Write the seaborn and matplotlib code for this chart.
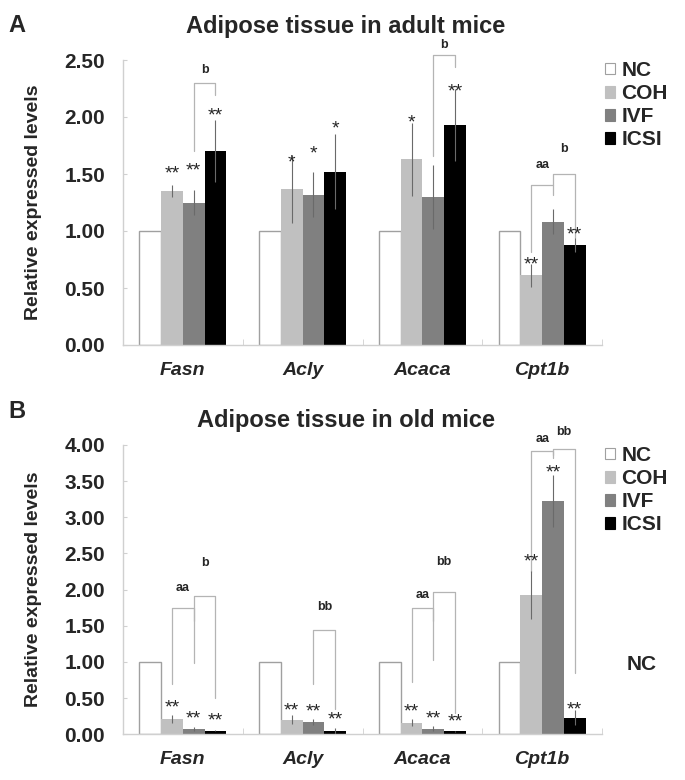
import numpy as np
import pandas as pd
import matplotlib
matplotlib.use("Agg")
import matplotlib.pyplot as plt
import matplotlib.transforms as mtransforms
from matplotlib.patches import Patch
import seaborn as sns

# Genes and groups
genes = ["Fasn", "Acly", "Acaca", "Cpt1b"]
groups = ["NC", "COH", "IVF", "ICSI"]
colors = ["#ffffff", "#c0c0c0", "#808080", "#000000"]

# Panel A: adipose tissue in adult mice
adult_nc = [1.00, 1.00, 1.00, 1.00]
adult_coh = [1.35, 1.37, 1.63, 0.61]
adult_ivf = [1.25, 1.32, 1.30, 1.08]
adult_icsi = [1.70, 1.52, 1.93, 0.88]
adult_coh_err = [0.05, 0.30, 0.32, 0.10]
adult_ivf_err = [0.11, 0.20, 0.28, 0.11]
adult_icsi_err = [0.27, 0.33, 0.32, 0.06]

# Panel B: adipose tissue in old mice
old_nc = [1.00, 1.00, 1.00, 1.00]
old_coh = [0.21, 0.20, 0.16, 1.93]
old_ivf = [0.07, 0.17, 0.08, 3.23]
old_icsi = [0.05, 0.05, 0.04, 0.23]
old_coh_err = [0.06, 0.06, 0.05, 0.33]
old_ivf_err = [0.03, 0.04, 0.03, 0.36]
old_icsi_err = [0.01, 0.04, 0.01, 0.10]

# Significance marks per gene (NC, COH, IVF, ICSI) and their heights
adult_stars = [["", "**", "**", "**"], ["", "*", "*", "*"], ["", "*", "", "**"], ["", "**", "", "**"]]
adult_star_y = [[0, 1.55, 1.58, 2.06], [0, 1.65, 1.73, 1.95], [0, 2.00, 0, 2.27], [0, 0.75, 0, 1.02]]
old_stars = [["", "**", "**", "**"], ["", "**", "**", "**"], ["", "**", "**", "**"], ["", "**", "**", "**"]]
old_star_y = [[0, 0.44, 0.29, 0.27], [0, 0.41, 0.39, 0.28], [0, 0.39, 0.29, 0.25], [0, 2.46, 3.70, 0.42]]

# Brackets: gene, left group, right group, left foot, top, right foot, label, label height
adult_brackets = [
    (0, 2, 3, 1.70, 2.30, 2.19, "b", 2.42),
    (2, 2, 3, 1.66, 2.54, 2.44, "b", 2.64),
    (3, 1, 2, 0.82, 1.40, 1.32, "aa", 1.59),
    (3, 2, 3, 1.40, 1.50, 0.94, "b", 1.73),
]
old_brackets = [
    (0, 1, 2, 0.70, 1.74, 1.56, "aa", 2.04),
    (0, 2, 3, 0.98, 1.91, 0.50, "b", 2.38),
    (1, 2, 3, 0.70, 1.44, 0.35, "bb", 1.77),
    (2, 1, 2, 0.73, 1.75, 1.56, "aa", 1.94),
    (2, 2, 3, 1.03, 1.97, 0.30, "bb", 2.40),
    (3, 1, 2, 2.25, 3.92, 3.82, "aa", 4.10),
    (3, 2, 3, 3.86, 3.94, 0.85, "bb", 4.20),
]

sns.set_style("white")
plt.rcParams["font.family"] = ["Liberation Sans", "DejaVu Sans"]

fig = plt.figure(figsize=(6.85, 7.8), dpi=100)
ax_a = fig.add_axes([123 / 685, 1 - 345 / 780, 479 / 685, 285 / 780])
ax_b = fig.add_axes([123 / 685, 1 - 734.3 / 780, 479 / 685, 289.3 / 780])

line_gray = "#b4b4b4"


def draw_panel(ax, values, errs, stars, star_y, brackets, ymax):
    df = pd.DataFrame({
        "gene": genes * len(groups),
        "group": np.repeat(groups, len(genes)),
        "value": sum(values, []),
    })
    sns.barplot(data=df, x="gene", y="value", hue="group", order=genes, hue_order=groups,
                palette=colors, width=0.725, saturation=1, errorbar=None, linewidth=0,
                legend=False, ax=ax)

    centers = [[p.get_x() + p.get_width() / 2 for p in c.patches] for c in ax.containers]
    for p in ax.containers[0].patches:
        p.set_edgecolor("#a0a0a0")
        p.set_linewidth(1)

    # error bars (upper + lower, no caps)
    for g in range(1, 4):
        ax.errorbar(centers[g], values[g], yerr=errs[g - 1], fmt="none",
                    ecolor="#6a6a6a", elinewidth=0.8, capsize=0, zorder=3)

    star_trans = mtransforms.offset_copy(ax.transData, fig=fig, y=-7.5, units="points")
    for i in range(len(genes)):
        for g in range(len(groups)):
            if stars[i][g]:
                ax.text(centers[g][i], star_y[i][g], stars[i][g], transform=star_trans,
                        ha="center", va="baseline", fontsize=14, clip_on=False)

    lab_trans = mtransforms.offset_copy(ax.transData, fig=fig, y=-3, units="points")
    for gi, g1, g2, yl, top, yr, lab, ly in brackets:
        x1, x2 = centers[g1][gi], centers[g2][gi]
        ax.plot([x1, x1, x2, x2], [yl, top, top, yr], color=line_gray, lw=0.9, clip_on=False)
        ax.text((x1 + x2) / 2, ly, lab, transform=lab_trans, ha="center", va="baseline",
                fontsize=9, fontweight="bold", clip_on=False)

    ax.set_xlim(-0.5, 3.5)
    ax.set_ylim(0, ymax)
    ax.set_yticks(np.arange(0, ymax + 0.01, 0.5))
    ax.set_yticklabels(["%.2f" % t for t in np.arange(0, ymax + 0.01, 0.5)],
                       fontsize=15, fontweight="bold")
    ax.set_xticks(range(len(genes)))
    ax.set_xticklabels(genes, fontsize=14, fontweight="bold", style="italic")
    ax.set_xticks([-0.5, 0.5, 1.5, 2.5, 3.5], minor=True)
    ax.tick_params(axis="y", direction="in", length=3, color="#d0d0d0", pad=13, left=True)
    ax.tick_params(axis="x", which="major", length=0, pad=12)
    ax.tick_params(axis="x", which="minor", direction="in", length=4, color="#d0d0d0", bottom=True)
    sns.despine(ax=ax)
    for s in ["left", "bottom"]:
        ax.spines[s].set_color("#d0d0d0")
        ax.spines[s].set_linewidth(1)
    ax.set_xlabel("")
    ax.set_ylabel("Relative expressed levels", fontsize=14, fontweight="bold")
    ax.yaxis.set_label_coords(-0.17, 0.5)

    handles = [Patch(facecolor=c, edgecolor="#a0a0a0" if c == "#ffffff" else c, linewidth=0.8)
               for c in colors]
    ax.legend(handles, groups, loc="upper left", bbox_to_anchor=(1.006, 0.997), frameon=False,
              prop={"weight": "bold", "size": 15}, handlelength=0.5, handleheight=0.5,
              handletextpad=0.3, labelspacing=0.2, borderpad=0, borderaxespad=0)


draw_panel(ax_a, [adult_nc, adult_coh, adult_ivf, adult_icsi],
           [adult_coh_err, adult_ivf_err, adult_icsi_err],
           adult_stars, adult_star_y, adult_brackets, 2.5)
draw_panel(ax_b, [old_nc, old_coh, old_ivf, old_icsi],
           [old_coh_err, old_ivf_err, old_icsi_err],
           old_stars, old_star_y, old_brackets, 4.0)

fig.text(8 / 685, 1 - 25 / 780, "A", ha="left", va="center", fontsize=17, fontweight="bold")
fig.text(0.505, 1 - 26 / 780, "Adipose tissue in adult mice", ha="center", va="center",
         fontsize=17, fontweight="bold")
fig.text(8 / 685, 1 - 412 / 780, "B", ha="left", va="center", fontsize=17, fontweight="bold")
fig.text(0.505, 1 - 420 / 780, "Adipose tissue in old mice", ha="center", va="center",
         fontsize=17, fontweight="bold")
fig.text(642 / 685, 1 - 665 / 780, "NC", ha="center", va="center", fontsize=15, fontweight="bold")

fig.savefig("out.png", dpi=100)
